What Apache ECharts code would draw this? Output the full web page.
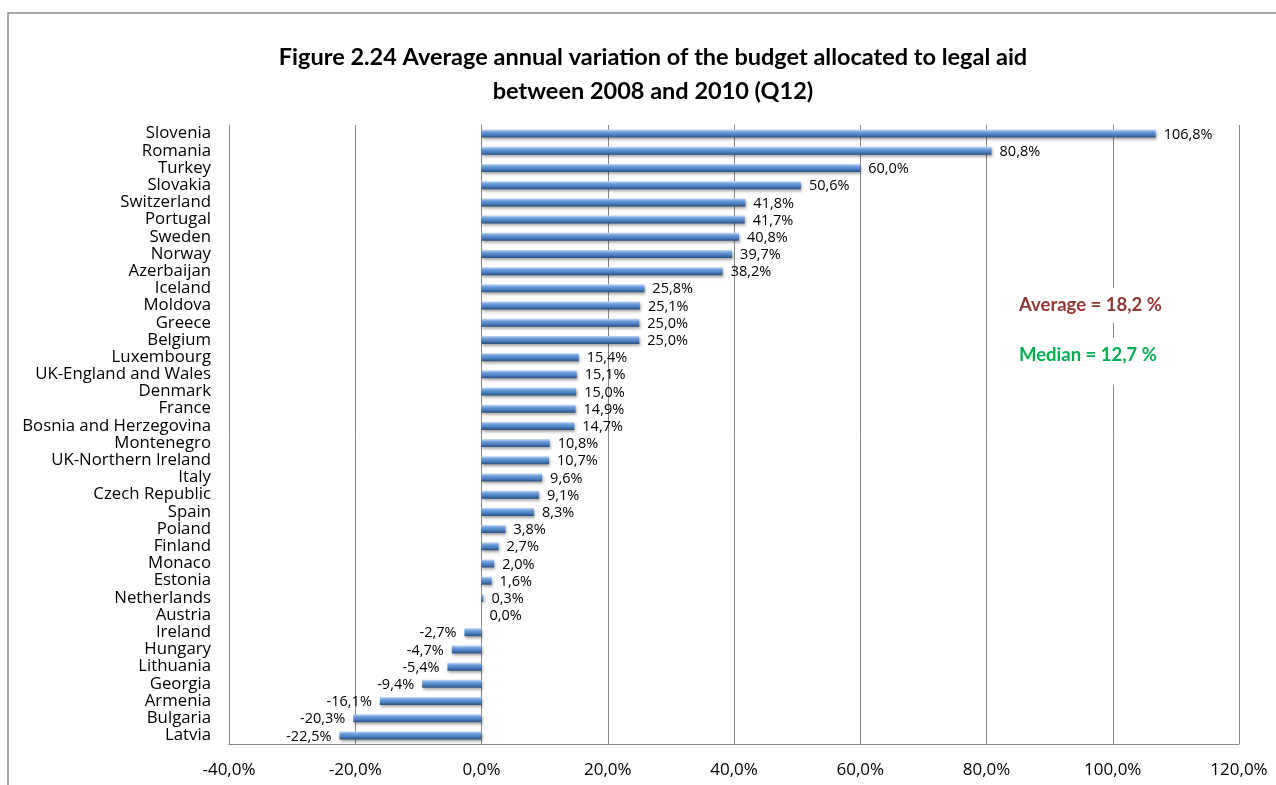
<!DOCTYPE html>
<html>
<head>
<meta charset="utf-8">
<script src="https://cdn.jsdelivr.net/npm/echarts@6/dist/echarts.min.js"></script>
<style>
html,body{margin:0;padding:0;background:#fff;}
#chart{width:1276px;height:785px;}
</style>
</head>
<body>
<div id="chart"></div>
<script>
const countries = ["Slovenia","Romania","Turkey","Slovakia","Switzerland","Portugal","Sweden","Norway","Azerbaijan","Iceland","Moldova","Greece","Belgium","Luxembourg","UK-England and Wales","Denmark","France","Bosnia and Herzegovina","Montenegro","UK-Northern Ireland","Italy","Czech Republic","Spain","Poland","Finland","Monaco","Estonia","Netherlands","Austria","Ireland","Hungary","Lithuania","Georgia","Armenia","Bulgaria","Latvia"];
const variation = [106.8,80.8,60.0,50.6,41.8,41.7,40.8,39.7,38.2,25.8,25.1,25.0,25.0,15.4,15.1,15.0,14.9,14.7,10.8,10.7,9.6,9.1,8.3,3.8,2.7,2.0,1.6,0.3,0.0,-2.7,-4.7,-5.4,-9.4,-16.1,-20.3,-22.5];
const xTicks = {min:-40, max:120, interval:20};
const titleLines = ["Figure 2.24 Average annual variation of the budget allocated to legal aid","between 2008 and 2010 (Q12)"];
const averageText = "Average = 18,2 %";
const medianText = "Median = 12,7 %";

const fmt = v => v.toFixed(1).replace('.', ',') + '%';
const FONT = '"Open Sans", Lato, sans-serif';
const TFONT = 'Lato, "Open Sans", sans-serif';

const chart = echarts.init(document.getElementById('chart'), null, {renderer:'canvas'});
const barGrad = new echarts.graphic.LinearGradient(0,0,0,1,[
  {offset:0, color:'#c6dbf5'},
  {offset:0.3, color:'#6f9fdc'},
  {offset:0.65, color:'#4a7ebf'},
  {offset:1, color:'#2a4f7c'}
]);

chart.setOption({
  animation:false,
  backgroundColor:'#fff',
  title:{
    text: titleLines.join('\n'),
    left: 648, top: 35, textAlign:'center',
    textStyle:{fontFamily:TFONT, fontWeight:'bold', fontSize:23.5, color:'#000', lineHeight:34}
  },
  grid:{left:229, right:37, top:125, bottom:41, containLabel:false},
  xAxis:{
    type:'value', min:xTicks.min, max:xTicks.max, interval:xTicks.interval,
    axisLine:{show:true, lineStyle:{color:'#868686', width:1}},
    axisTick:{show:false},
    splitLine:{show:true, lineStyle:{color:'#868686', width:1}},
    axisLabel:{formatter:v=>fmt(v), fontFamily:FONT, fontSize:17, color:'#000', margin:18}
  },
  yAxis:{
    type:'category', data:countries, inverse:true,
    axisLine:{show:true, lineStyle:{color:'#868686', width:1}},
    axisTick:{show:false},
    axisLabel:{fontFamily:FONT, fontSize:16.8, color:'#000', margin:18, interval:0, lineHeight:17}
  },
  series:[{
    type:'bar', barWidth:8,
    data: variation.map(v => v < 0 ? {value:v, label:{position:'left'}} : v),
    itemStyle:{color:barGrad, shadowColor:'rgba(0,0,0,0.35)', shadowBlur:3, shadowOffsetX:1, shadowOffsetY:2},
    label:{show:true, formatter:p=>fmt(p.value), fontFamily:FONT, fontSize:14.5, color:'#000', distance:8,
      position:'right', offset:[0,1]}
  }],
  graphic:[
    {type:'polyline', shape:{points:[[8,800],[8,13],[1290,13]]}, style:{stroke:'#8a8a8a', lineWidth:1.5, fill:null}, silent:true},
    {type:'text', left:1011, top:288, z:10, style:{text:averageText, fontFamily:TFONT, fontWeight:'bold', fontSize:18.5, fill:'#953735', backgroundColor:'#fff', padding:[8,8,8,8]}},
    {type:'text', left:1011, top:338, z:10, style:{text:medianText, fontFamily:TFONT, fontWeight:'bold', fontSize:18.5, fill:'#00b050', backgroundColor:'#fff', padding:[8,8,20,8]}}
  ]
});
</script>
</body>
</html>
